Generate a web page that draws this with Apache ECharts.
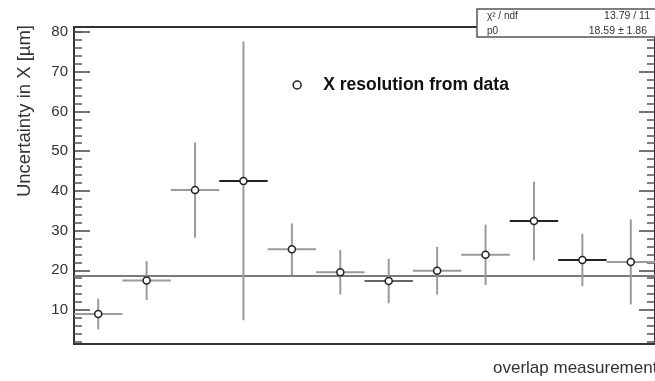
<!DOCTYPE html>
<html>
<head>
<meta charset="utf-8">
<script src="https://cdn.jsdelivr.net/npm/echarts@6/dist/echarts.min.js"></script>
<style>
html,body{margin:0;padding:0;background:#fff;}
#chart{width:655px;height:381px;}
</style>
</head>
<body>
<div id="chart"></div>
<script>
// ---- data ----
const bins = [1, 2, 3, 4, 5, 6, 7, 8, 9, 10, 11, 12];
const values = [9.0, 17.4, 40.2, 42.5, 25.3, 19.5, 17.3, 19.9, 23.9, 32.4, 22.6, 22.1];
const errors = [3.9, 4.9, 12.0, 35.1, 6.5, 5.6, 5.6, 6.0, 7.6, 9.9, 6.6, 10.7];
const fitP0 = 18.59;
const fitP0Err = 1.86;
const chi2 = 13.79;
const ndf = 11;
const yMajorTicks = [10, 20, 30, 40, 50, 60, 70, 80];
const yMinorTicks = [2, 4, 6, 8, 12, 14, 16, 18, 22, 24, 26, 28, 32, 34, 36, 38, 42, 44, 46, 48, 52, 54, 56, 58, 62, 64, 66, 68, 72, 74, 76, 78, 80];
const yRange = [1.44, 81.26];
const seriesName = 'X resolution from data';
const yTitle = 'Uncertainty in X [µm]';
const xTitle = 'overlap measurement';

// ---- styling (separate from data) ----
const hbarColors = ['#9a9a9a', '#9a9a9a', '#9a9a9a', '#222', '#9a9a9a', '#9a9a9a', '#666', '#9a9a9a', '#9a9a9a', '#222', '#222', '#9a9a9a'];
const FONT = 'Liberation Sans, Arial, sans-serif';

const chart = echarts.init(document.getElementById('chart'), null, {renderer: 'canvas'});

const points = bins.map((b, k) => [b - 1, values[k], errors[k]]);

function renderItem(params, api) {
  const i = api.value(0), v = api.value(1), e = api.value(2);
  const cs = params.coordSys;
  const c = api.coord([i + 0.5, v]);
  const l = api.coord([i, v]);
  const r = api.coord([i + 1, v]);
  const t = api.coord([i + 0.5, v + e]);
  const b = api.coord([i + 0.5, v - e]);
  const xr = Math.min(r[0], cs.x + cs.width);
  return {
    type: 'group',
    children: [
      {type: 'line', shape: {x1: c[0], y1: t[1], x2: c[0], y2: b[1]}, style: {stroke: '#9a9a9a', lineWidth: 2}},
      {type: 'line', shape: {x1: l[0], y1: c[1], x2: xr, y2: c[1]}, style: {stroke: hbarColors[params.dataIndex], lineWidth: 2}},
      {type: 'circle', shape: {cx: c[0], cy: c[1], r: 3.5}, style: {fill: '#fff', stroke: '#222', lineWidth: 1.5}}
    ]
  };
}

const yBase = {
  type: 'value', min: yRange[0], max: yRange[1], position: 'left',
  axisLine: {show: false}, splitLine: {show: false}
};

const option = {
  animation: false,
  grid: {left: 74, top: 27, width: 582, height: 317, show: true, borderColor: '#333', borderWidth: 2, backgroundColor: 'transparent'},
  xAxis: {
    type: 'value', min: 0, max: 12,
    axisLine: {show: false}, axisTick: {show: false}, axisLabel: {show: false}, splitLine: {show: false}
  },
  yAxis: [
    Object.assign({}, yBase, {
      axisTick: {show: true, inside: true, length: 16, customValues: yMajorTicks, lineStyle: {color: '#444', width: 1.5}},
      axisLabel: {show: true, customValues: yMajorTicks, margin: 6, fontSize: 15, color: '#333', fontFamily: FONT}
    }),
    Object.assign({}, yBase, {
      axisTick: {show: true, inside: true, length: 8, customValues: yMinorTicks, lineStyle: {color: '#555', width: 1.5}},
      axisLabel: {show: false}
    }),
    Object.assign({}, yBase, {
      position: 'right',
      axisTick: {show: true, inside: true, length: 16, customValues: yMajorTicks, lineStyle: {color: '#444', width: 1.5}},
      axisLabel: {show: false}
    }),
    Object.assign({}, yBase, {
      position: 'right',
      axisTick: {show: true, inside: true, length: 8, customValues: yMinorTicks, lineStyle: {color: '#555', width: 1.5}},
      axisLabel: {show: false}
    })
  ],
  legend: {
    left: 287.4, top: 71,
    itemWidth: 42, itemHeight: 8, symbolKeepAspect: true,
    textStyle: {fontSize: 17.5, fontWeight: 'bold', color: '#111', fontFamily: FONT},
    data: [{name: seriesName, icon: 'circle', itemStyle: {color: '#fff', borderColor: '#222', borderWidth: 1.5}}]
  },
  series: [
    {
      name: 'fit', type: 'line', z: 1, silent: true,
      data: [[0, fitP0], [12, fitP0]], showSymbol: false, symbol: 'none',
      lineStyle: {color: '#7a7a7a', width: 2}
    },
    {
      name: seriesName, type: 'custom', z: 3,
      renderItem: renderItem, data: points,
      encode: {x: 0, y: 1}
    }
  ],
  graphic: [
    {type: 'text', x: 25, y: 25, rotation: Math.PI / 2,
     style: {text: yTitle, fontSize: 18.5, fontFamily: FONT, fill: '#333', align: 'right', verticalAlign: 'middle'}},
    {type: 'text', x: 493, y: 368,
     style: {text: xTitle, fontSize: 17, fontFamily: FONT, fill: '#333', align: 'left', verticalAlign: 'middle'}},
    {type: 'rect', z: 100, shape: {x: 477, y: 9, width: 182, height: 28},
     style: {fill: '#fff', stroke: '#555', lineWidth: 1.5}},
    {type: 'text', z: 101, x: 487, y: 16,
     style: {text: 'χ² / ndf', fontSize: 10, fontFamily: FONT, fill: '#333', align: 'left', verticalAlign: 'middle'}},
    {type: 'text', z: 101, x: 650, y: 16,
     style: {text: chi2.toFixed(2) + ' / ' + ndf, fontSize: 10.5, fontFamily: FONT, fill: '#333', align: 'right', verticalAlign: 'middle'}},
    {type: 'text', z: 101, x: 487, y: 31,
     style: {text: 'p0', fontSize: 10, fontFamily: FONT, fill: '#333', align: 'left', verticalAlign: 'middle'}},
    {type: 'text', z: 101, x: 647, y: 31,
     style: {text: fitP0.toFixed(2) + ' ± ' + fitP0Err.toFixed(2), fontSize: 10.5, fontFamily: FONT, fill: '#333', align: 'right', verticalAlign: 'middle'}}
  ]
};

chart.setOption(option);
</script>
</body>
</html>
